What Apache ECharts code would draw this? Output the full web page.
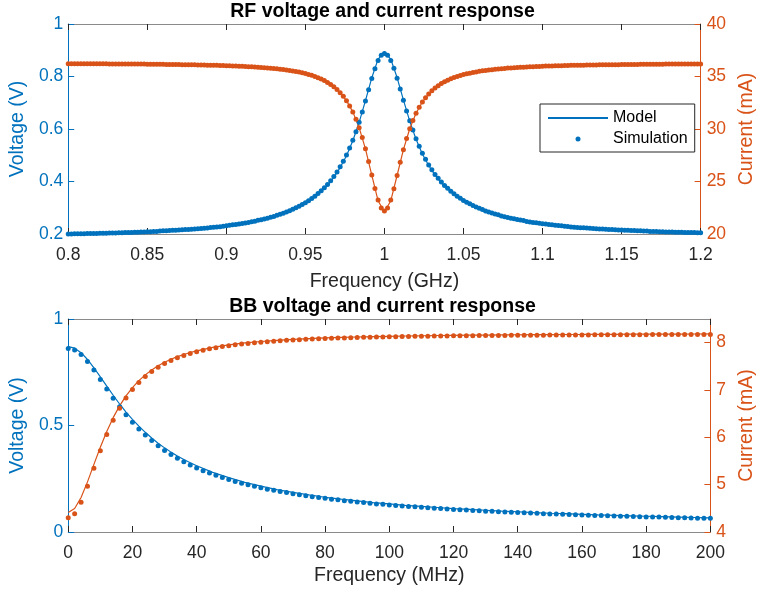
<!DOCTYPE html>
<html>
<head>
<meta charset="utf-8">
<script src="https://cdn.jsdelivr.net/npm/echarts@6/dist/echarts.min.js"></script>
<style>
  html, body { margin: 0; padding: 0; background: #ffffff; }
  #chart { width: 765px; height: 595px; }
</style>
</head>
<body>
<div id="chart"></div>
<script>
// ---------- RF sweep (GHz) ----------
const rfSimStart = 0.8, rfSimStep = 0.002;     // simulated points
const rfModelStart = 0.8, rfModelStep = 0.004; // model curve points

const rfVoltSim = [
  0.200,0.200,0.201,0.201,0.201,0.201,0.202,0.202,0.202,0.202,
  0.203,0.203,0.203,0.204,0.204,0.204,0.205,0.205,0.206,0.206,
  0.206,0.207,0.207,0.208,0.208,0.209,0.209,0.210,0.210,0.211,
  0.212,0.212,0.213,0.214,0.214,0.215,0.216,0.217,0.217,0.218,
  0.219,0.220,0.221,0.222,0.223,0.225,0.226,0.227,0.228,0.230,
  0.231,0.233,0.235,0.236,0.238,0.240,0.242,0.244,0.247,0.249,
  0.252,0.254,0.257,0.260,0.264,0.267,0.271,0.275,0.279,0.284,
  0.289,0.294,0.300,0.306,0.312,0.319,0.327,0.335,0.344,0.354,
  0.365,0.376,0.389,0.403,0.419,0.436,0.456,0.477,0.501,0.528,
  0.557,0.590,0.626,0.665,0.707,0.750,0.792,0.830,0.861,0.881,
  0.888,
  0.881,0.861,0.831,0.793,0.752,0.710,0.669,0.631,0.596,0.563,
  0.534,0.508,0.485,0.463,0.445,0.427,0.412,0.398,0.385,0.374,
  0.363,0.353,0.344,0.336,0.328,0.321,0.315,0.309,0.303,0.298,
  0.293,0.288,0.284,0.280,0.276,0.273,0.269,0.266,0.263,0.260,
  0.258,0.255,0.253,0.251,0.248,0.246,0.244,0.243,0.241,0.239,
  0.238,0.236,0.235,0.233,0.232,0.231,0.230,0.229,0.227,0.226,
  0.225,0.224,0.224,0.223,0.222,0.221,0.220,0.219,0.219,0.218,
  0.217,0.217,0.216,0.215,0.215,0.214,0.214,0.213,0.213,0.212,
  0.212,0.211,0.211,0.210,0.210,0.210,0.209,0.209,0.208,0.208,
  0.208,0.207,0.207,0.207,0.206,0.206,0.206,0.206,0.205,0.205
];
const rfCurrSim = [
  36.22,36.22,36.22,36.22,36.22,36.22,36.22,36.21,36.21,36.21,
  36.21,36.21,36.21,36.20,36.20,36.20,36.20,36.20,36.19,36.19,
  36.19,36.19,36.18,36.18,36.18,36.17,36.17,36.17,36.16,36.16,
  36.16,36.15,36.15,36.15,36.14,36.14,36.13,36.13,36.12,36.12,
  36.11,36.10,36.10,36.09,36.08,36.08,36.07,36.06,36.05,36.04,
  36.03,36.02,36.01,36.00,35.98,35.97,35.95,35.94,35.92,35.90,
  35.88,35.86,35.84,35.82,35.79,35.76,35.73,35.70,35.66,35.62,
  35.58,35.53,35.48,35.42,35.35,35.28,35.20,35.11,35.01,34.89,
  34.76,34.61,34.44,34.25,34.03,33.77,33.46,33.11,32.70,32.20,
  31.63,30.94,30.13,29.19,28.11,26.90,25.61,24.34,23.24,22.47,
  22.20,
  22.47,23.24,24.32,25.57,26.84,28.03,29.09,30.02,30.82,31.50,
  32.08,32.57,32.98,33.34,33.64,33.90,34.13,34.33,34.50,34.65,
  34.78,34.90,35.00,35.10,35.18,35.26,35.32,35.39,35.44,35.49,
  35.54,35.58,35.62,35.65,35.69,35.72,35.75,35.77,35.80,35.82,
  35.84,35.86,35.88,35.89,35.91,35.92,35.94,35.95,35.96,35.98,
  35.99,36.00,36.01,36.02,36.03,36.03,36.04,36.05,36.06,36.06,
  36.07,36.08,36.08,36.09,36.09,36.10,36.10,36.11,36.11,36.12,
  36.12,36.13,36.13,36.13,36.14,36.14,36.14,36.15,36.15,36.15,
  36.16,36.16,36.16,36.16,36.17,36.17,36.17,36.17,36.18,36.18,
  36.18,36.18,36.18,36.19,36.19,36.19,36.19,36.19,36.19,36.20
];
const rfVoltModel = [
  0.197,0.198,0.198,0.199,0.199,0.200,0.200,0.201,0.202,0.203,
  0.203,0.204,0.205,0.206,0.207,0.209,0.210,0.211,0.213,0.214,
  0.216,0.218,0.220,0.223,0.225,0.228,0.232,0.235,0.239,0.244,
  0.249,0.254,0.261,0.268,0.276,0.286,0.297,0.309,0.324,0.341,
  0.362,0.386,0.416,0.453,0.498,0.555,0.625,0.708,0.795,0.866,
  0.893,
  0.866,0.796,0.711,0.630,0.561,0.505,0.461,0.424,0.395,0.371,
  0.350,0.333,0.318,0.306,0.295,0.285,0.277,0.270,0.263,0.257,
  0.252,0.248,0.243,0.240,0.236,0.233,0.230,0.228,0.226,0.223,
  0.221,0.220,0.218,0.216,0.215,0.214,0.212,0.211,0.210,0.209,
  0.208,0.207,0.207,0.206,0.205,0.204,0.204,0.203,0.203,0.202
];
const rfCurrModel = [
  36.26,36.26,36.26,36.26,36.25,36.25,36.25,36.24,36.24,36.23,
  36.23,36.22,36.22,36.21,36.20,36.20,36.19,36.18,36.17,36.16,
  36.15,36.14,36.12,36.11,36.09,36.07,36.05,36.02,35.99,35.96,
  35.92,35.86,35.80,35.74,35.67,35.59,35.49,35.36,35.20,35.01,
  34.76,34.44,34.03,33.46,32.70,31.63,30.13,28.11,25.61,23.16,
  22.10,
  23.16,25.57,28.03,30.02,31.50,32.57,33.34,33.90,34.33,34.65,
  34.90,35.10,35.27,35.40,35.50,35.59,35.66,35.73,35.79,35.86,
  35.90,35.93,35.96,35.99,36.02,36.04,36.06,36.07,36.09,36.10,
  36.12,36.13,36.14,36.15,36.16,36.17,36.17,36.18,36.19,36.19,
  36.20,36.20,36.21,36.21,36.22,36.22,36.23,36.23,36.23,36.24
];

// ---------- Baseband sweep (MHz) ----------
const bbSimStart = 0, bbSimStep = 2;
const bbVoltSim = [
  0.862,0.854,0.833,0.800,0.760,0.716,0.671,0.628,0.588,0.550,
  0.515,0.483,0.455,0.429,0.405,0.383,0.364,0.346,0.330,0.315,
  0.301,0.288,0.277,0.266,0.256,0.246,0.237,0.229,0.222,0.215,
  0.208,0.201,0.196,0.190,0.185,0.180,0.175,0.170,0.166,0.162,
  0.158,0.154,0.151,0.147,0.144,0.141,0.138,0.135,0.132,0.130,
  0.127,0.125,0.122,0.120,0.118,0.116,0.114,0.112,0.110,0.108,
  0.106,0.105,0.103,0.101,0.100,0.098,0.097,0.095,0.094,0.093,
  0.091,0.090,0.089,0.088,0.086,0.085,0.084,0.083,0.082,0.081,
  0.080,0.079,0.078,0.077,0.076,0.075,0.074,0.074,0.073,0.072,
  0.071,0.070,0.070,0.069,0.068,0.067,0.067,0.066,0.065,0.065,
  0.064
];
const bbCurrSim = [
  4.300,4.387,4.627,4.966,5.345,5.718,6.060,6.359,6.615,6.830,
  7.010,7.160,7.287,7.393,7.483,7.559,7.624,7.680,7.729,7.771,
  7.808,7.840,7.869,7.894,7.917,7.937,7.955,7.971,7.985,7.998,
  8.010,8.021,8.031,8.040,8.049,8.056,8.064,8.070,8.076,8.082,
  8.087,8.092,8.096,8.100,8.104,8.108,8.112,8.115,8.118,8.121,
  8.123,8.126,8.128,8.131,8.133,8.135,8.137,8.139,8.140,8.142,
  8.144,8.145,8.146,8.148,8.149,8.150,8.151,8.153,8.154,8.155,
  8.156,8.157,8.158,8.158,8.159,8.160,8.161,8.162,8.162,8.163,
  8.164,8.164,8.165,8.166,8.166,8.167,8.167,8.168,8.168,8.169,
  8.169,8.170,8.170,8.171,8.171,8.171,8.172,8.172,8.172,8.173,
  8.173
];
// model curve: 2 MHz steps up to 40 MHz, then 5 MHz steps
const bbModelFine = { start: 0, step: 2, count: 21 };
const bbModelCoarse = { start: 45, step: 5, count: 32 };
const bbVoltModel = [
  0.870,0.863,0.842,0.810,0.771,0.728,0.685,0.642,0.601,0.563,0.529,
  0.497,0.468,0.441,0.417,0.395,0.375,0.357,0.340,0.325,0.311,
  0.280,0.255,0.233,0.215,0.199,0.186,0.174,0.163,0.154,0.146,0.138,
  0.132,0.125,0.120,0.115,0.110,0.106,0.102,0.098,0.095,0.091,0.088,
  0.086,0.083,0.080,0.078,0.076,0.074,0.072,0.070,0.068,0.066
];
const bbCurrModel = [
  4.410,4.495,4.729,5.059,5.428,5.792,6.125,6.416,6.665,6.875,7.050,
  7.197,7.320,7.423,7.511,7.585,7.649,7.704,7.751,7.792,7.828,
  7.900,7.953,7.994,8.025,8.050,8.070,8.086,8.100,8.111,8.120,8.128,
  8.135,8.141,8.146,8.151,8.155,8.158,8.161,8.164,8.167,8.169,8.171,
  8.173,8.174,8.176,8.177,8.179,8.180,8.181,8.182,8.183,8.184
];

// ---------- helpers ----------
function sweep(start, step, count) {
  const out = [];
  for (let i = 0; i < count; i++) out.push(+(start + i * step).toFixed(4));
  return out;
}
function pairs(xs, ys) { return ys.map((y, i) => [xs[i], y]); }

const rfFreqSim = sweep(rfSimStart, rfSimStep, rfVoltSim.length);
const rfFreqModel = sweep(rfModelStart, rfModelStep, rfVoltModel.length);
const bbFreqSim = sweep(bbSimStart, bbSimStep, bbVoltSim.length);
const bbFreqModel = sweep(bbModelFine.start, bbModelFine.step, bbModelFine.count)
  .concat(sweep(bbModelCoarse.start, bbModelCoarse.step, bbModelCoarse.count));

// ---------- styling ----------
const BLUE = '#0072BD';
const ORANGE = '#D95319';
const INK = '#262626';
const FRAME = '#8a8a8a';
const FONT = 'Arial, "Liberation Sans", Helvetica, sans-serif';
const TICK_FS = 17.5;
const LABEL_FS = 19.5;

function xBottom(gridIndex, min, max, interval, name, nameGap) {
  return {
    type: 'value', gridIndex, position: 'bottom', min, max, interval,
    name, nameLocation: 'middle', nameGap,
    nameTextStyle: { color: INK, fontSize: LABEL_FS, fontFamily: FONT },
    axisLine: { onZero: false, lineStyle: { color: FRAME, width: 1 } },
    axisTick: { inside: true, length: 6, lineStyle: { color: INK } },
    axisLabel: { color: INK, fontSize: TICK_FS, fontFamily: FONT, margin: 12 },
    splitLine: { show: false }
  };
}
function xTop(gridIndex, min, max, interval) {
  return {
    type: 'value', gridIndex, position: 'top', min, max, interval,
    axisLine: { onZero: false, lineStyle: { color: FRAME, width: 1 } },
    axisTick: { inside: true, length: 6, lineStyle: { color: INK } },
    axisLabel: { show: false },
    splitLine: { show: false }
  };
}
function yAxis(gridIndex, side, min, max, interval, name, color, gap, extraLabel) {
  return {
    type: 'value', gridIndex, position: side, min, max, interval,
    name, nameLocation: 'middle', nameRotate: 90, nameGap: gap,
    nameTextStyle: { color, fontSize: LABEL_FS, fontFamily: FONT },
    axisLine: { show: true, onZero: false, lineStyle: { color, width: 1 } },
    axisTick: { show: true, inside: true, length: 6, lineStyle: { color } },
    axisLabel: Object.assign({ color, fontSize: TICK_FS, fontFamily: FONT, margin: side === 'left' ? 5 : 6 }, extraLabel || {}),
    splitLine: { show: false }
  };
}
function modelLine(name, xIdx, yIdx, data, color) {
  return {
    name, type: 'line', xAxisIndex: xIdx, yAxisIndex: yIdx, data,
    symbol: 'none', showSymbol: false, smooth: false,
    lineStyle: { color, width: 1.2 }, itemStyle: { color }, z: 3
  };
}
function simDots(name, xIdx, yIdx, data, color) {
  return {
    name, type: 'scatter', xAxisIndex: xIdx, yAxisIndex: yIdx, data,
    symbol: 'circle', symbolSize: 5,
    itemStyle: { color, opacity: 1 }, z: 4
  };
}

const chart = echarts.init(document.getElementById('chart'), null, { renderer: 'canvas' });
chart.setOption({
  animation: false,
  backgroundColor: '#ffffff',
  title: [
    { text: 'RF voltage and current response', left: 'center', top: 2, padding: 0,
      textStyle: { fontSize: LABEL_FS, fontWeight: 'bold', color: '#000', fontFamily: FONT } },
    { text: 'BB voltage and current response', left: 'center', top: 297, padding: 0,
      textStyle: { fontSize: LABEL_FS, fontWeight: 'bold', color: '#000', fontFamily: FONT } }
  ],
  grid: [
    { left: 65, top: 24, width: 647, height: 210, containLabel: false },
    { left: 65, top: 319, width: 647, height: 213, containLabel: false }
  ],
  legend: {
    data: [
      { name: 'Model', itemStyle: { opacity: 0 } },
      { name: 'Simulation' }
    ],
    orient: 'vertical', left: 540, top: 104,
    itemWidth: 60, itemHeight: 5, itemGap: 5,
    padding: [6, 7, 5, 7],
    borderColor: INK, borderWidth: 1, backgroundColor: '#ffffff',
    selectedMode: false,
    textStyle: { color: '#000', fontSize: 16, fontFamily: FONT, lineHeight: 16 }
  },
  xAxis: [
    xBottom(0, 0.8, 1.2, 0.05, 'Frequency (GHz)', 38),
    xTop(0, 0.8, 1.2, 0.05),
    xBottom(1, 0, 200, 20, 'Frequency (MHz)', 34),
    xTop(1, 0, 200, 20)
  ],
  yAxis: [
    yAxis(0, 'left', 0.2, 1, 0.2, 'Voltage (V)', BLUE, 30),
    yAxis(0, 'right', 20, 40, 5, 'Current (mA)', ORANGE, 33),
    yAxis(1, 'left', 0, 1, 0.5, 'Voltage (V)', BLUE, 30),
    yAxis(1, 'right', 4, 8.5, 1, 'Current (mA)', ORANGE, 23, { showMaxLabel: false })
  ],
  series: [
    modelLine('Model', 0, 0, pairs(rfFreqModel, rfVoltModel), BLUE),
    simDots('Simulation', 0, 0, pairs(rfFreqSim, rfVoltSim), BLUE),
    modelLine('Model', 0, 1, pairs(rfFreqModel, rfCurrModel), ORANGE),
    simDots('Simulation', 0, 1, pairs(rfFreqSim, rfCurrSim), ORANGE),
    modelLine('Model', 2, 2, pairs(bbFreqModel, bbVoltModel), BLUE),
    simDots('Simulation', 2, 2, pairs(bbFreqSim, bbVoltSim), BLUE),
    modelLine('Model', 2, 3, pairs(bbFreqModel, bbCurrModel), ORANGE),
    simDots('Simulation', 2, 3, pairs(bbFreqSim, bbCurrSim), ORANGE)
  ]
});
</script>
</body>
</html>
